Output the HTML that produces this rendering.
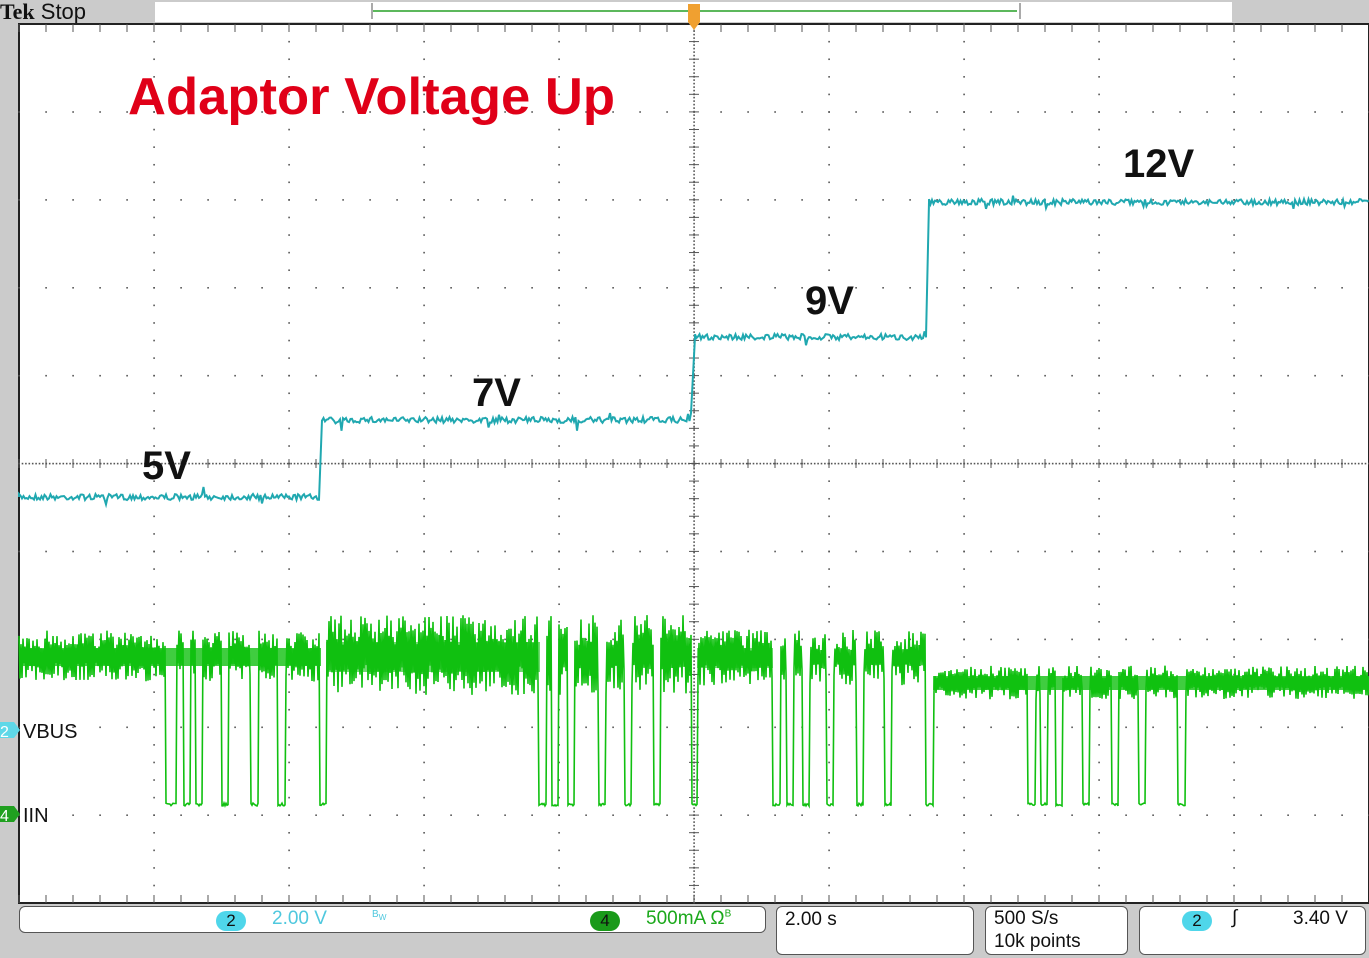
<!DOCTYPE html>
<html><head><meta charset="utf-8"><style>
body{margin:0;width:1369px;height:958px;overflow:hidden;background:#cbcbcb;font-family:"Liberation Sans",sans-serif;position:relative}
.abs{position:absolute}
.box{position:absolute;background:#fff;border:1px solid #555;border-radius:6px;box-sizing:border-box;font-size:19px;color:#111}
.circ{display:inline-block;width:30px;height:20px;border-radius:10px;text-align:center;line-height:20px;font-size:17px;color:#111}
</style></head><body>
<div class="abs" style="left:0;top:0;font-size:22px;color:#111;line-height:24px"><b style="font-family:'Liberation Serif',serif">Tek</b> Stop</div>
<div class="abs" style="left:155px;top:2px;width:1077px;height:20px;background:#fff"></div>
<div class="abs" style="left:371px;top:3px;width:646px;height:16px;border-left:2px solid #aaa;border-right:2px solid #aaa"></div>
<div class="abs" style="left:373px;top:10px;width:644px;height:2px;background:#5cb85c"></div>
<svg class="abs" style="left:0;top:0" width="1369" height="958">
<rect x="19" y="24" width="1350" height="879" fill="#fff" stroke="#222" stroke-width="2"/>
<g id="grid"></g>
<path d="M688 4 h12 v18 l-6 8 l-6 -8z" fill="#f0a030"/>
<text x="128" y="114" font-size="52" font-weight="bold" fill="#e00018" font-family="Liberation Sans,sans-serif" textLength="487" lengthAdjust="spacingAndGlyphs">Adaptor Voltage Up</text>
<g id="waves"></g>
<text x="1123" y="177" font-size="40" font-weight="bold" fill="#111">12V</text>
<text x="805" y="314" font-size="40" font-weight="bold" fill="#111">9V</text>
<text x="472" y="406" font-size="40" font-weight="bold" fill="#111">7V</text>
<text x="142" y="479" font-size="40" font-weight="bold" fill="#111">5V</text>
<path d="M0 722 h14 l6 8 l-6 8 h-14z" fill="#5fd8e8"/>
<text x="0" y="737" font-size="16" fill="#fff">2</text>
<path d="M0 806 h14 l6 8 l-6 8 h-14z" fill="#20a020"/>
<text x="0" y="821" font-size="16" fill="#fff">4</text>
<text x="23" y="738" font-size="20" fill="#111">VBUS</text>
<text x="23" y="822" font-size="20" fill="#111">IIN</text>
</svg>
<div class="box" style="left:19px;top:906px;width:747px;height:27px">
 <span class="abs" style="left:196px;top:3px"><span class="circ" style="background:#4fd6ea">2</span></span>
 <span class="abs" style="left:252px;top:1px;color:#4fc8de">2.00 V</span>
 <span class="abs" style="left:352px;top:2px;color:#4fc8de;font-size:10px">B<sub>W</sub></span>
 <span class="abs" style="left:570px;top:3px"><span class="circ" style="background:#1a9a1a">4</span></span>
 <span class="abs" style="left:626px;top:1px;color:#1aa81a">500mA Ω<sup style="font-size:10px">B</sup></span>
</div>
<div class="box" style="left:776px;top:906px;width:198px;height:49px;padding:2px 8px">2.00 s</div>
<div class="box" style="left:985px;top:906px;width:143px;height:49px;padding:0 8px;line-height:23px">500 S/s<br>10k points</div>
<div class="box" style="left:1139px;top:906px;width:227px;height:49px">
 <span class="abs" style="left:42px;top:3px"><span class="circ" style="background:#4fd6ea">2</span></span>
 <span class="abs" style="left:92px;top:0px;font-style:italic">∫</span>
 <span class="abs" style="left:153px;top:1px">3.40 V</span>
</div>
<script>
var g=document.getElementById('grid'),s='';
function dot(x,y,r){s+='<rect x="'+(x-0.7)+'" y="'+(y-0.7)+'" width="1.6" height="1.6" fill="#555"/>';}
var dx=135,dy=87.9;
for(var i=1;i<10;i++){var x=19+i*dx;for(var y=24;y<=903;y+=dy/5)dot(x,y);}
for(var j=1;j<10;j++){var y=24+j*dy;for(var x=19;x<=1369;x+=dx/5)dot(x,y);}
for(var y=24;y<903;y+=3.5)dot(694,y);
for(var x=19;x<1369;x+=3.4)dot(x,463.5);
for(var y=24;y<903;y+=dy/5){s+='<line x1="689" x2="699" y1="'+y+'" y2="'+y+'" stroke="#555" stroke-width="1"/>';}
for(var x=19;x<1369;x+=dx/5){s+='<line x1="'+x+'" x2="'+x+'" y1="459" y2="468" stroke="#555"/><line x1="'+x+'" x2="'+x+'" y1="895" y2="903" stroke="#555"/><line x1="'+x+'" x2="'+x+'" y1="24" y2="32" stroke="#555"/>';}
g.innerHTML=s;
var seed=7;function rnd(){seed=(seed*16807)%2147483647;return seed/2147483647;}
var w='';
var lv=[[19,320,497],[322,692,420],[695,926,337],[929,1369,202]];
var p='';
for(var k=0;k<lv.length;k++){var a=lv[k];p+=(k?'L':'M')+a[0]+' '+a[2];
 for(var x=a[0];x<=a[1];x+=1.5){var n=(rnd()-0.5)*6;if(rnd()<0.02)n+=(rnd()-0.5)*18;p+='L'+x.toFixed(1)+' '+(a[2]+n).toFixed(1);}}
w+='<path d="'+p+'" fill="none" stroke="#20a8b0" stroke-width="2"/>';
var pulses=[[166,176],[184,190],[196,202],[222,228],[251,258],[278,285],[320,326],[539,546],[552,558],[568,574],[599,605],[625,631],[654,660],[692,697],[773,780],[787,793],[803,809],[827,833],[857,863],[885,891],[926,933],[1028,1035],[1041,1047],[1056,1062],[1083,1089],[1112,1118],[1139,1145],[1178,1185]];
function band(x){if(x<321)return[640,672];if(x<694)return[630,680];if(x<929)return[640,675];return[672,693];}
var q='';var first=true;
for(var x=19;x<=1369;x+=1){var low=false;for(var i=0;i<pulses.length;i++)if(x>=pulses[i][0]&&x<=pulses[i][1])low=true;
 var y;if(low){y=803+rnd()*3;}else{var b=band(x);y=(x%2?b[0]:b[1])+(rnd()-0.5)*(b[1]-b[0])*0.6;}
 q+=(first?'M':'L')+x+' '+y.toFixed(1);first=false;}
w+='<path d="'+q+'" fill="none" stroke="#10c010" stroke-width="1.6"/>';
w+='<rect x="19" y="648" width="302" height="18" fill="#10c010" opacity="0.8"/><rect x="326" y="642" width="214" height="30" fill="#10c010" opacity="0.6"/><rect x="933" y="676" width="436" height="14" fill="#10c010" opacity="0.8"/><rect x="697" y="648" width="76" height="20" fill="#10c010" opacity="0.6"/>';
document.getElementById('waves').innerHTML=w;
</script>
</body></html>
